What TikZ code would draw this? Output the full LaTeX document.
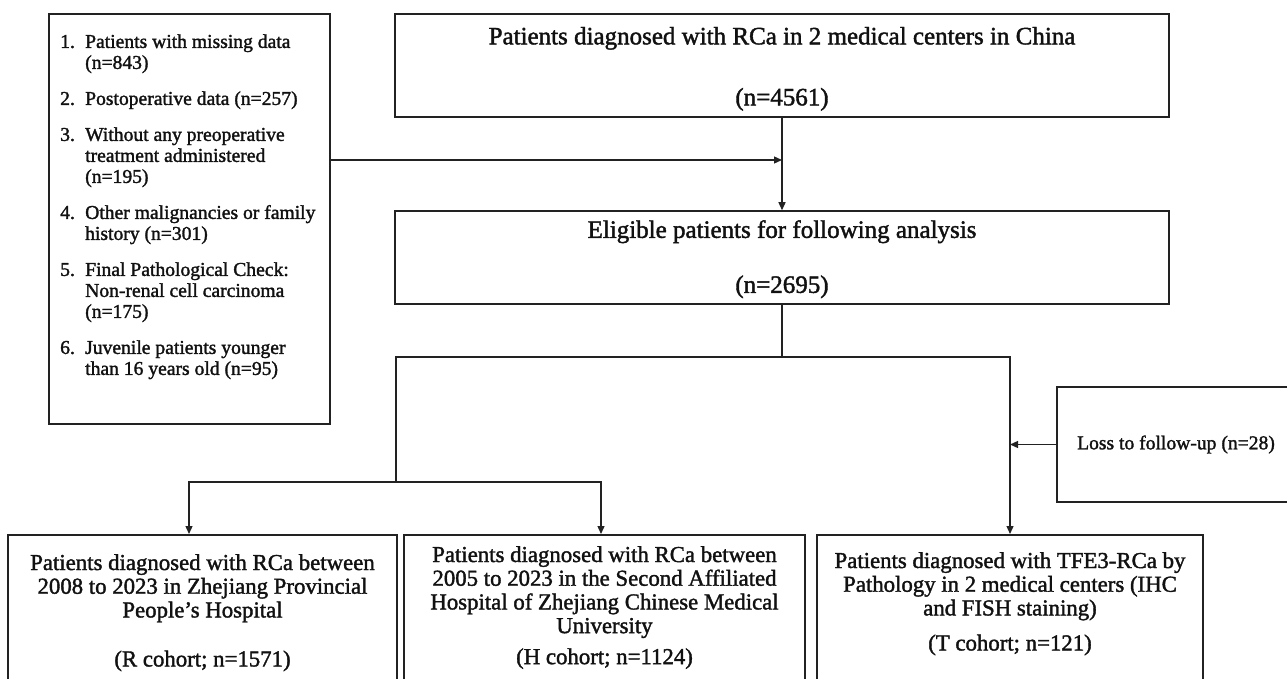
\documentclass[tikz,border=0pt]{standalone}
\usepackage{fontspec}
\setmainfont{Liberation Serif}[FakeBold=1.6]
\usetikzlibrary{arrows.meta, positioning}
\definecolor{flowline}{HTML}{222222}
\definecolor{flowtext}{HTML}{111111}

\begin{document}
\begin{tikzpicture}[
    x=1pt, y=-1pt,
    flowbox/.style={draw=flowline, line width=1.5pt, inner sep=0pt, align=center, text=flowtext},
    headbox/.style={flowbox, minimum width=774pt, font=\fontsize{25}{30}\selectfont},
    cohortbox/.style={flowbox, minimum width=#1, minimum height=150pt, anchor=north},
    cohorttxt/.style={inner sep=0pt, align=center, text=flowtext, font=\fontsize{22.8}{23.7}\selectfont},
    listtxt/.style={inner sep=0pt, text=flowtext, font=\fontsize{19.6}{21}\selectfont},
    link/.style={draw=flowline, line width=1.3pt},
    arrow/.style={link, -{Triangle[length=8pt, width=7pt]}}
  ]
    \useasboundingbox (0,0) rectangle (1287,679);
    \clip (0,0) rectangle (1287,679);

    % exclusion criteria
    \node[flowbox, minimum width=281pt, minimum height=410pt] (excl) at (189.5,219) {};
    \node[listtxt, anchor=north west] (crit) at (60,33) {%
      \begin{tabular}{@{}p{25pt}@{}l@{}}
      1. & Patients with missing data\\
         & (n=843)\\[15pt]
      2. & Postoperative data (n=257)\\[15pt]
      3. & Without any preoperative\\
         & treatment administered\\
         & (n=195)\\[15pt]
      4. & Other malignancies or family\\
         & history (n=301)\\[15pt]
      5. & Final Pathological Check:\\
         & Non-renal cell carcinoma\\
         & (n=175)\\[15pt]
      6. & Juvenile patients younger\\
         & than 16 years old (n=95)
      \end{tabular}};

    % main flow
    \node[headbox, minimum height=103pt] (tot) at (782,65.5) {\rule{0pt}{24pt}Patients diagnosed with RCa in 2 medical centers in China\\[31pt](n=4561)};
    \node[headbox, minimum height=93pt] (elig) at (782,257.5) {\rule{0pt}{21pt}Eligible patients for following analysis\\[25pt](n=2695)};
    \node[flowbox, minimum width=238pt, minimum height=115pt, font=\fontsize{19.6}{23}\selectfont] (loss) at (1176,444.5) {Loss to follow-up (n=28)};

    % cohorts
    \node[cohortbox=389pt] (rbox) at (202.5,534) {};
    \node[cohortbox=401pt] (hbox) at (604.5,534) {};
    \node[cohortbox=386pt] (tbox) at (1010,534) {};
    \node[cohorttxt, below=20pt of rbox.north] (rtxt) {Patients diagnosed with RCa between\\2008 to 2023 in Zhejiang Provincial\\People’s Hospital\\[25.3pt](R cohort; n=1571)};
    \node[cohorttxt, below=12pt of hbox.north] (htxt) {Patients diagnosed with RCa between\\2005 to 2023 in the Second Affiliated\\Hospital of Zhejiang Chinese Medical\\University\\[7.3pt](H cohort; n=1124)};
    \node[cohorttxt, below=18pt of tbox.north] (ttxt) {Patients diagnosed with TFE3-RCa by\\Pathology in 2 medical centers (IHC\\and FISH staining)\\[11.3pt](T cohort; n=121)};

    \coordinate (join) at (782,160);
    \coordinate (split) at (782,357);
    \coordinate (lsplit) at (396,357);
    \coordinate (rsplit) at (1010,357);
    \coordinate (lfork) at (189,482);
    \coordinate (hfork) at (601,482);

    \draw[arrow] (excl.east |- join) -- (join);
    \draw[arrow] (tot) -- (elig);
    \draw[link] (elig) -- (split);
    \draw[arrow] (lsplit |- lfork) -- (lsplit) -- (rsplit) -- (tbox);
    \draw[arrow] (lsplit |- lfork) -- (lfork) -- (lfork |- rbox.north);
    \draw[arrow] (lsplit |- lfork) -- (hfork) -- (hfork |- hbox.north);
    \draw[arrow] (loss) -- (loss -| rsplit);
  \end{tikzpicture}
\end{document}
